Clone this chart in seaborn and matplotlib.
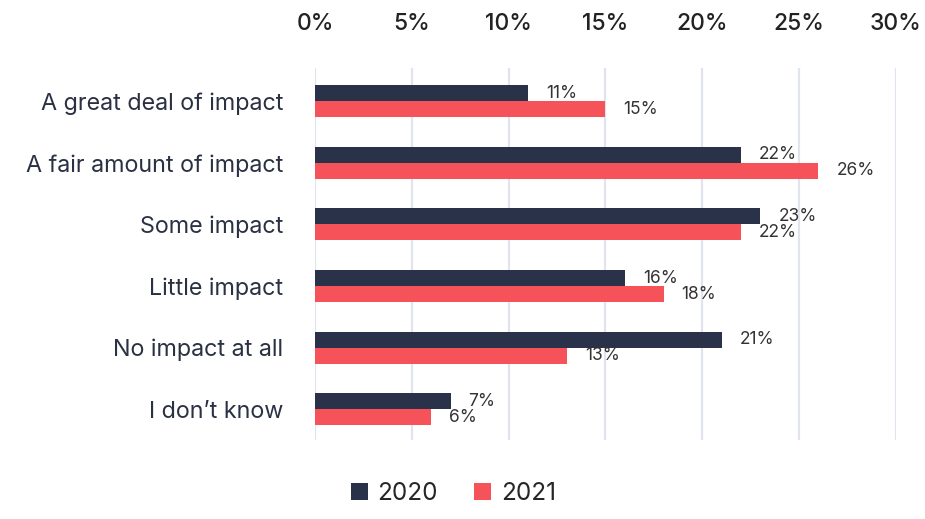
import matplotlib
matplotlib.use("Agg")
import matplotlib.pyplot as plt
import seaborn as sns
import pandas as pd
from matplotlib.patches import Patch

# Survey answers and shares per year (percent)
categories = [
    "A great deal of impact",
    "A fair amount of impact",
    "Some impact",
    "Little impact",
    "No impact at all",
    "I don\u2019t know",
]
values_2020 = [11, 22, 23, 16, 21, 7]
values_2021 = [15, 26, 22, 18, 13, 6]
years = ["2020", "2021"]
x_ticks = [0, 5, 10, 15, 20, 25, 30]

colors = {"2020": "#2a3249", "2021": "#f5525a"}

df = pd.DataFrame({
    "category": categories * 2,
    "value": values_2020 + values_2021,
    "year": [years[0]] * len(categories) + [years[1]] * len(categories),
})

sns.set_theme(style="white")
plt.rcParams["font.family"] = ["Inter", "DejaVu Sans"]

fig = plt.figure(figsize=(9.25, 5.19), dpi=100)
ax = fig.add_axes([0.3405, 0.152, 0.6281, 0.717])

sns.barplot(
    data=df, y="category", x="value", hue="year", order=categories,
    hue_order=years, palette=colors, orient="h", width=0.52,
    saturation=1, legend=False, linewidth=0, ax=ax,
)

for container in ax.containers:
    labels = ax.bar_label(container, fmt="{:.0f}%", padding=13,
                          fontsize=12.5, color="#333333")
    for t in labels:
        t.set_va("center")

ax.set_xlim(0, 30)
ax.set_ylim(5.5, -0.54)
ax.set_xticks(x_ticks)
ax.set_xticklabels([f"{v}%" for v in x_ticks])
ax.xaxis.tick_top()
ax.tick_params(axis="x", length=0, pad=24, labelsize=16.5, labelcolor="#222222")
ax.tick_params(axis="y", length=0, pad=23, labelsize=16.8, labelcolor="#2a3142")
for lbl in ax.get_xticklabels():
    lbl.set_fontweight("medium")
ax.set_xlabel("")
ax.set_ylabel("")

ax.grid(axis="x", color="#e1e4ef", linewidth=1.6)
ax.set_axisbelow(True)
for s in ax.spines.values():
    s.set_visible(False)

handles = [Patch(facecolor=colors[y], edgecolor="none", label=y) for y in years]
fig.legend(handles=handles, loc="lower center", bbox_to_anchor=(0.49, -0.015),
           ncol=2, frameon=False, fontsize=17.5, handlelength=0.7, handleheight=0.7,
           handletextpad=0.4, columnspacing=1.5)

fig.savefig("out.png", dpi=100)
